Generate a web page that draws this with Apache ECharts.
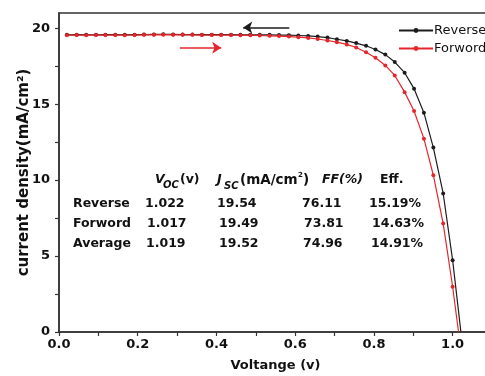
<!DOCTYPE html>
<html>
<head>
<meta charset="utf-8">
<script src="https://cdn.jsdelivr.net/npm/echarts@6.0.0/dist/echarts.min.js"></script>
<style>
  html, body {margin: 0; padding: 0; background: #fff;}
  #chart {width: 485px; height: 376px;}
</style>
</head>
<body>
<div id="chart"></div>
<script>
  // voltage of each measured point (both sweeps share them)
  const voltage = [
    0.020, 0.045, 0.069, 0.094, 0.118, 0.143, 0.167, 0.192, 0.216, 0.241,
    0.265, 0.290, 0.314, 0.339, 0.363, 0.388, 0.412, 0.437, 0.461, 0.486,
    0.510, 0.535, 0.559, 0.584, 0.608, 0.633, 0.657, 0.682, 0.706, 0.731,
    0.755, 0.780, 0.804, 0.829, 0.853, 0.878, 0.902, 0.927, 0.951, 0.976,
    1.000
  ];
  const reverseJ = [
    19.56, 19.57, 19.56, 19.56, 19.57, 19.57, 19.56, 19.57, 19.58, 19.59,
    19.60, 19.59, 19.58, 19.58, 19.57, 19.57, 19.57, 19.57, 19.56, 19.56,
    19.56, 19.56, 19.55, 19.54, 19.52, 19.49, 19.45, 19.38, 19.27, 19.16,
    19.02, 18.84, 18.60, 18.26, 17.77, 17.07, 16.02, 14.44, 12.14, 9.12,
    4.73
  ];
  const forwordJ = [
    19.54, 19.55, 19.54, 19.55, 19.55, 19.55, 19.54, 19.55, 19.56, 19.56,
    19.57, 19.56, 19.56, 19.56, 19.55, 19.55, 19.55, 19.55, 19.54, 19.53,
    19.52, 19.50, 19.48, 19.45, 19.41, 19.36, 19.29, 19.19, 19.08, 18.93,
    18.73, 18.42, 18.05, 17.55, 16.89, 15.79, 14.55, 12.73, 10.32, 7.14,
    2.98
  ];
  // where each curve meets J = 0
  const reverseEnd = [1.021, 0];
  const forwordEnd = [1.015, 0];

  const xTicks = [0, 0.1, 0.2, 0.3, 0.4, 0.5, 0.6, 0.7, 0.8, 0.9, 1.0];
  const xLabels = [0, 0.2, 0.4, 0.6, 0.8, 1.0];
  const yTicks = [0, 2.5, 5, 7.5, 10, 12.5, 15, 17.5, 20];
  const yLabels = [0, 5, 10, 15, 20];

  // sweep direction arrows [from, to]
  const reverseArrow = [[0.585, 20.05], [0.468, 20.05]];
  const forwordArrow = [[0.307, 18.72], [0.412, 18.72]];

  // table
  const tableRows = ['Reverse', 'Forword', 'Average'];
  const vocVals = ['1.022', '1.017', '1.019'];
  const jscVals = ['19.54', '19.49', '19.52'];
  const ffVals = ['76.11', '73.81', '74.96'];
  const effVals = ['15.19%', '14.63%', '14.91%'];

  const FONT = 'DejaVu Sans';
  const INK = '#111';
  const BLACK = '#1c1c1c';
  const RED = '#e5262b';

  const chart = echarts.init(document.getElementById('chart'));

  const toPoints = (ys, end) => voltage.map((v, i) => [v, ys[i]])
    .concat([{value: end, symbol: 'none'}]);

  const arrowLine = (arr, color) => ({
    silent: true,
    animation: false,
    symbol: ['none', 'arrow'],
    symbolSize: 9,
    label: {show: false},
    lineStyle: {color: color, width: 1.6, type: 'solid'},
    emphasis: {disabled: true},
    data: [[{coord: arr[0]}, {coord: arr[1]}]]
  });

  const txt = (x, y, text, extra) => ({
    type: 'text',
    x: x,
    y: y,
    silent: true,
    style: Object.assign({
      text: text,
      fill: INK,
      font: 'bold 12.5px "' + FONT + '"',
      textVerticalAlign: 'middle'
    }, extra || {})
  });

  const rowY = [204, 224, 244];
  const tableGraphics = [];
  tableRows.forEach((name, i) => {
    tableGraphics.push(txt(73, rowY[i], name));
    tableGraphics.push(txt([145, 147, 146][i], rowY[i], vocVals[i]));
    tableGraphics.push(txt([217, 219, 219][i], rowY[i], jscVals[i]));
    tableGraphics.push(txt([302, 304, 303][i], rowY[i], ffVals[i]));
    tableGraphics.push(txt([369, 372, 371][i], rowY[i], effVals[i]));
  });
  const italic = {font: 'italic bold 12.5px "' + FONT + '"'};
  const sub = {font: 'italic bold 10px "' + FONT + '"'};
  tableGraphics.push(
    txt(155, 180, 'V', italic),
    txt(163, 185, 'OC', sub),
    txt(180, 180, '(v)'),
    txt(217, 180, 'J', italic),
    txt(224, 186, 'SC', sub),
    txt(240, 180, '(mA/cm', {font: 'bold 13.5px "' + FONT + '"'}),
    txt(298, 175, '2', {font: 'bold 7px "' + FONT + '"'}),
    txt(303, 180, ')', {font: 'bold 13.5px "' + FONT + '"'}),
    txt(322, 180, 'FF(%)', italic),
    txt(380, 180, 'Eff.')
  );

  chart.setOption({
    animation: false,
    backgroundColor: '#fff',
    grid: {
      left: 59,
      top: 13,
      width: 433,
      height: 319,
      outerBoundsMode: 'none',
      containLabel: false,
      show: true,
      borderColor: '#333',
      borderWidth: 1.5,
      backgroundColor: 'transparent'
    },
    legend: {
      orient: 'vertical',
      left: 393,
      top: 19,
      itemWidth: 34,
      itemHeight: 6,
      itemGap: 5,
      textStyle: {fontFamily: FONT, fontSize: 13, color: INK, padding: [0, 0, 0, -4]},
      data: ['Reverse', 'Forword']
    },
    xAxis: {
      type: 'value',
      min: 0,
      max: 1.1,
      name: 'Voltange (v)',
      nameLocation: 'middle',
      nameGap: 27,
      nameMoveOverlap: false,
      nameTextStyle: {fontFamily: FONT, fontWeight: 'bold', fontSize: 13, color: INK},
      axisLine: {show: true, onZero: false, lineStyle: {color: '#333', width: 1.5}},
      axisTick: {show: true, length: 4, customValues: xTicks, lineStyle: {color: '#333', width: 1.2}},
      axisLabel: {
        margin: 6,
        customValues: xLabels,
        formatter: v => Number(v).toFixed(1),
        fontFamily: FONT, fontWeight: 'bold', fontSize: 13, color: INK
      },
      splitLine: {show: false}
    },
    yAxis: {
      type: 'value',
      min: 0,
      max: 21,
      name: 'current density(mA/cm²)',
      nameLocation: 'middle',
      nameGap: 27,
      nameMoveOverlap: false,
      nameTextStyle: {fontFamily: FONT, fontWeight: 'bold', fontSize: 15, color: INK},
      axisLine: {show: true, onZero: false, lineStyle: {color: '#333', width: 1.5}},
      axisTick: {show: true, length: 4, customValues: yTicks, lineStyle: {color: '#333', width: 1.2}},
      axisLabel: {
        margin: 9,
        customValues: yLabels,
        fontFamily: FONT, fontWeight: 'bold', fontSize: 13, color: INK
      },
      splitLine: {show: false}
    },
    series: [
      {
        name: 'Reverse',
        type: 'line',
        data: toPoints(reverseJ, reverseEnd),
        symbol: 'circle',
        symbolSize: 4,
        showAllSymbol: true,
        color: BLACK,
        itemStyle: {color: BLACK},
        lineStyle: {color: BLACK, width: 1.2},
        markLine: arrowLine(reverseArrow, BLACK)
      },
      {
        name: 'Forword',
        type: 'line',
        data: toPoints(forwordJ, forwordEnd),
        symbol: 'circle',
        symbolSize: 4,
        showAllSymbol: true,
        color: RED,
        itemStyle: {color: RED},
        lineStyle: {color: RED, width: 1.2},
        markLine: arrowLine(forwordArrow, RED)
      }
    ],
    graphic: tableGraphics
  });
</script>
</body>
</html>
